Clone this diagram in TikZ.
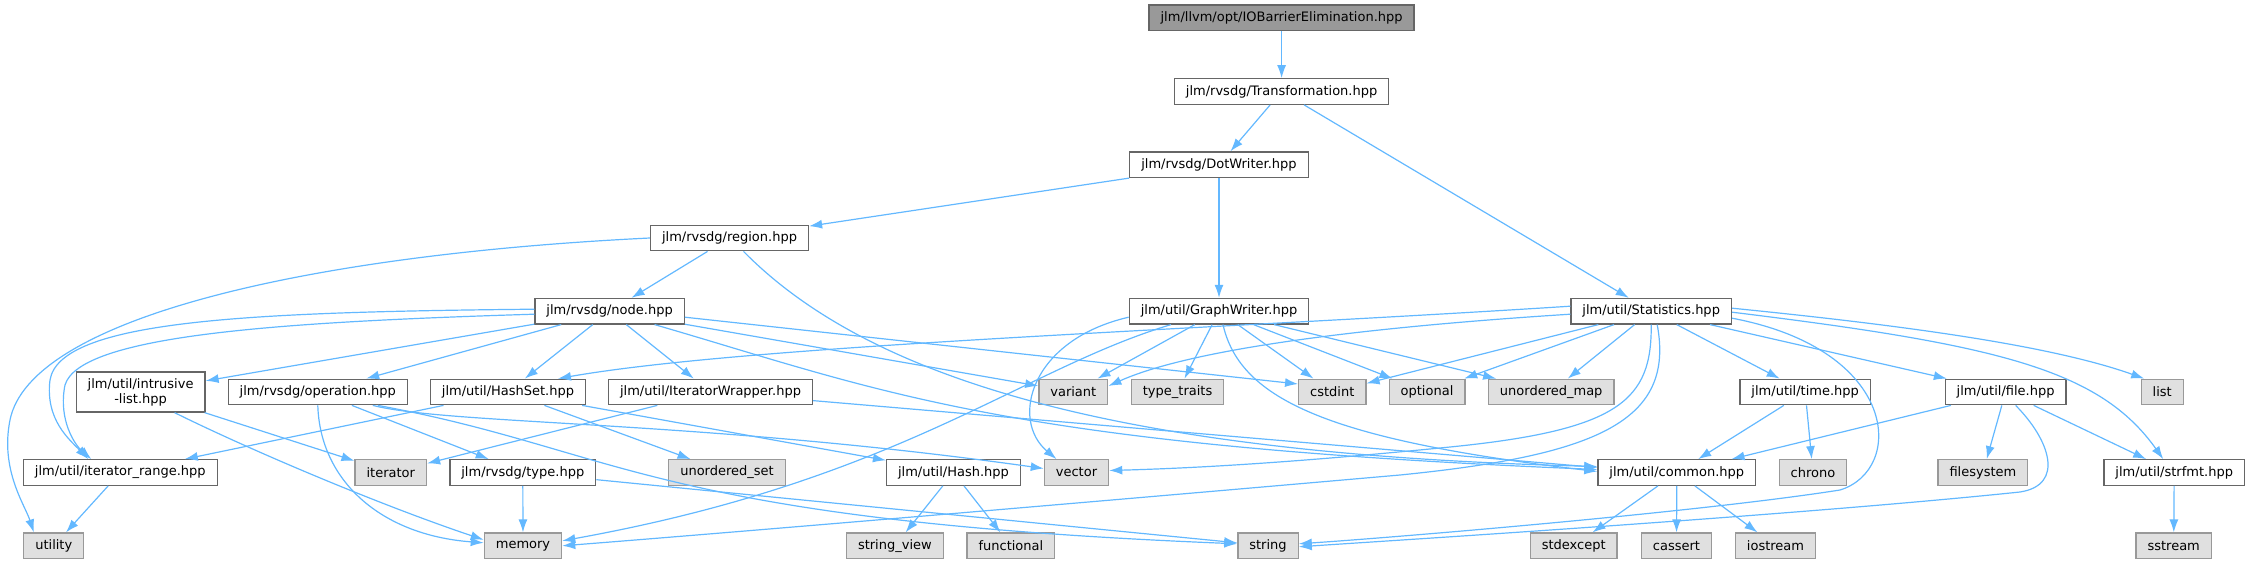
\documentclass[tikz,border=0pt]{standalone}
\usepackage{fontspec}
\setmainfont{DejaVu Sans}
\usetikzlibrary{arrows.meta}
\definecolor{edgeblue}{HTML}{63B8FF}
\definecolor{boxline}{HTML}{666666}
\definecolor{sysline}{HTML}{999999}
\definecolor{sysfill}{HTML}{E0E0E0}
\definecolor{rootfill}{HTML}{999999}
\begin{document}
\begin{tikzpicture}[x=1pt,y=-1pt,
  hdr/.style={draw=boxline,fill=white,line width=1.3pt,minimum height=25.5pt,inner xsep=11.5pt,inner ysep=0pt,font=\fontsize{13}{15}\selectfont},
  sys/.style={hdr,draw=sysline,fill=sysfill},
  root/.style={hdr,fill=rootfill},
  dep/.style={draw=edgeblue,line width=1.2pt,-{Latex[length=13pt,width=9pt]}}]
\useasboundingbox (0,0) rectangle (2248,564);
\node[root] (iob) at (1281.6,17.7) {jlm/llvm/opt/IOBarrierElimination.hpp};
\node[hdr] (trans) at (1281.6,91.5) {jlm/rvsdg/Transformation.hpp};
\node[hdr] (dotw) at (1219,164.7) {jlm/rvsdg/DotWriter.hpp};
\node[hdr] (region) at (729.5,238) {jlm/rvsdg/region.hpp};
\node[hdr] (rnode) at (609.6,311.2) {jlm/rvsdg/node.hpp};
\node[hdr] (graphw) at (1219,311.2) {jlm/util/GraphWriter.hpp};
\node[hdr] (stats) at (1651.2,311.2) {jlm/util/Statistics.hpp};
\node[hdr,align=center,minimum height=40pt] (ilist) at (140.6,392) {jlm/util/intrusive\\-list.hpp};
\node[hdr] (oper) at (317.8,392) {jlm/rvsdg/operation.hpp};
\node[hdr] (hashset) at (508,392) {jlm/util/HashSet.hpp};
\node[hdr] (itwrap) at (710.5,392) {jlm/util/IteratorWrapper.hpp};
\node[sys] (variant) at (1073.3,392) {variant};
\node[sys] (typetr) at (1177.6,392) {type\_traits};
\node[sys] (cstdint) at (1332.3,392) {cstdint};
\node[sys] (optional) at (1427,392) {optional};
\node[sys] (umap) at (1551.2,392) {unordered\_map};
\node[hdr] (timeh) at (1805.2,392) {jlm/util/time.hpp};
\node[hdr] (fileh) at (2005.6,392) {jlm/util/file.hpp};
\node[sys] (list) at (2162.2,392) {list};
\node[hdr] (itrange) at (120.3,472.5) {jlm/util/iterator\_range.hpp};
\node[sys] (iterator) at (390.8,472.5) {iterator};
\node[hdr] (rtype) at (522.8,472.5) {jlm/rvsdg/type.hpp};
\node[sys] (uset) at (727,472.5) {unordered\_set};
\node[hdr] (hash) at (953.5,472.5) {jlm/util/Hash.hpp};
\node[sys] (vector) at (1076.5,472.5) {vector};
\node[hdr] (common) at (1676.8,472.5) {jlm/util/common.hpp};
\node[sys] (chrono) at (1813,472.5) {chrono};
\node[sys] (filesys) at (1982.9,472.5) {filesystem};
\node[hdr] (strfmt) at (2174.2,472.5) {jlm/util/strfmt.hpp};
\node[sys] (utility) at (53.8,545.8) {utility};
\node[sys] (memory) at (523,545.8) {memory};
\node[sys] (strview) at (894.9,545.8) {string\_view};
\node[sys] (functional) at (1010.9,545.8) {functional};
\node[sys] (string) at (1268,545.8) {string};
\node[sys] (stdexcept) at (1573.7,545.8) {stdexcept};
\node[sys] (cassert) at (1676.5,545.8) {cassert};
\node[sys] (iostream) at (1775.5,545.8) {iostream};
\node[sys] (sstream) at (2173.7,545.8) {sstream};
\draw[dep] (iob) -- (trans);
\draw[dep] (trans) -- (dotw);
\draw[dep] (trans) -- (stats);
\draw[dep] (dotw) -- (region);
\draw[dep] (dotw) -- (graphw);
\draw[dep] (region) -- (rnode);
\draw[dep] (region.west) .. controls (300,255) and (30,320) .. (10,420) .. controls (0,470) and (25,505) .. ([xshift=-20pt]utility.north);
\draw[dep] ([xshift=14pt]region.south) .. controls (880,390) and (1150,455) .. ([yshift=6pt]common.west);
\draw[dep] ([yshift=2pt]rnode.west) .. controls (250,312) and (60,320) .. (50,380) .. controls (45,420) and (70,440) .. ([xshift=-32pt]itrange.north);
\draw[dep] ([yshift=-3pt]rnode.west) .. controls (280,322) and (80,335) .. (65,385) .. controls (58,420) and (75,445) .. ([xshift=-29pt]itrange.north);
\draw[dep] (rnode) -- (ilist);
\draw[dep] (rnode) -- (oper);
\draw[dep] (rnode) -- (hashset);
\draw[dep] (rnode) -- (itwrap);
\draw[dep] (rnode) -- (variant);
\draw[dep] ([yshift=-6pt]rnode.east) -- ([yshift=8pt]cstdint.west);
\draw[dep] ([xshift=45pt]rnode.south) .. controls (880,390) and (1000,445) .. ([yshift=3pt]common.west);
\draw[dep] (ilist) -- (iterator);
\draw[dep] ([xshift=34pt]ilist.south) .. controls (250,450) and (380,505) .. ([yshift=6pt]memory.west);
\draw[dep] (oper.south) .. controls (320,480) and (380,535) .. ([yshift=3pt]memory.west);
\draw[dep] (oper) -- (rtype);
\draw[dep] ([xshift=55pt]oper.south) .. controls (450,425) and (700,420) .. ([yshift=4pt]vector.west);
\draw[dep] ([xshift=60pt]oper.south) .. controls (620,450) and (650,520) .. ([yshift=2pt]string.west);
\draw[dep] (hashset) -- (itrange);
\draw[dep] (hashset) -- (uset);
\draw[dep] (hashset) -- (hash);
\draw[dep] (itwrap) -- (iterator);
\draw[dep] (itwrap) -- ([yshift=5pt]common.west);
\draw[dep] (itrange) -- (utility);
\draw[dep] (rtype) -- (memory);
\draw[dep] (rtype) -- (string);
\draw[dep] (hash) -- (strview);
\draw[dep] (hash) -- (functional);
\draw[dep] ([yshift=-6pt]graphw.west) .. controls (1030,340) and (1010,420) .. ([xshift=-20pt]vector.north);
\draw[dep] ([xshift=-48pt]graphw.south) .. controls (1020,370) and (900,480) .. ([yshift=5pt]memory.east);
\draw[dep] (graphw) -- (variant);
\draw[dep] (graphw) -- (typetr);
\draw[dep] (graphw) -- (cstdint);
\draw[dep] (graphw) -- (optional);
\draw[dep] (graphw) -- (umap);
\draw[dep] ([xshift=4pt]graphw.south) .. controls (1240,400) and (1330,440) .. ([yshift=1pt]common.west);
\draw[dep] ([yshift=5pt]stats.west) .. controls (1200,330) and (750,345) .. ([xshift=50pt]hashset.north);
\draw[dep] ([yshift=-3pt]stats.west) .. controls (1400,325) and (1200,345) .. ([yshift=6pt]variant.east);
\draw[dep] (stats) -- (cstdint);
\draw[dep] (stats) -- (optional);
\draw[dep] (stats) -- (umap);
\draw[dep] (stats.south) .. controls (1652,400) and (1620,430) .. (1450,447) .. controls (1300,462) and (1200,468) .. ([yshift=2pt]vector.east);
\draw[dep] ([xshift=6pt]stats.south) .. controls (1675,420) and (1600,455) .. (1400,475) .. controls (1000,510) and (700,535) .. (memory.east);
\draw[dep] (stats) -- (timeh);
\draw[dep] (stats) -- (fileh);
\draw[dep] ([yshift=3pt]stats.east) .. controls (1900,325) and (2050,345) .. ([xshift=-18pt]list.north);
\draw[dep] ([yshift=-1pt]stats.east) .. controls (2000,345) and (2100,370) .. ([xshift=-11pt]strfmt.north);
\draw[dep] ([yshift=-7pt]stats.east) .. controls (1900,350) and (1905,470) .. (1840,490) .. controls (1700,512) and (1400,537) .. ([yshift=2pt]string.east);
\draw[dep] (timeh) -- (common);
\draw[dep] (timeh) -- (chrono);
\draw[dep] (fileh) -- (common);
\draw[dep] (fileh) -- (filesys);
\draw[dep] (fileh) -- (strfmt);
\draw[dep] ([xshift=10pt]fileh.south) .. controls (2050,440) and (2065,485) .. (2020,492) .. controls (1800,515) and (1400,540) .. ([yshift=-1pt]string.east);
\draw[dep] (strfmt) -- (sstream);
\draw[dep] (common) -- (stdexcept);
\draw[dep] (common) -- (cassert);
\draw[dep] (common) -- (iostream);
\end{tikzpicture}
\end{document}
